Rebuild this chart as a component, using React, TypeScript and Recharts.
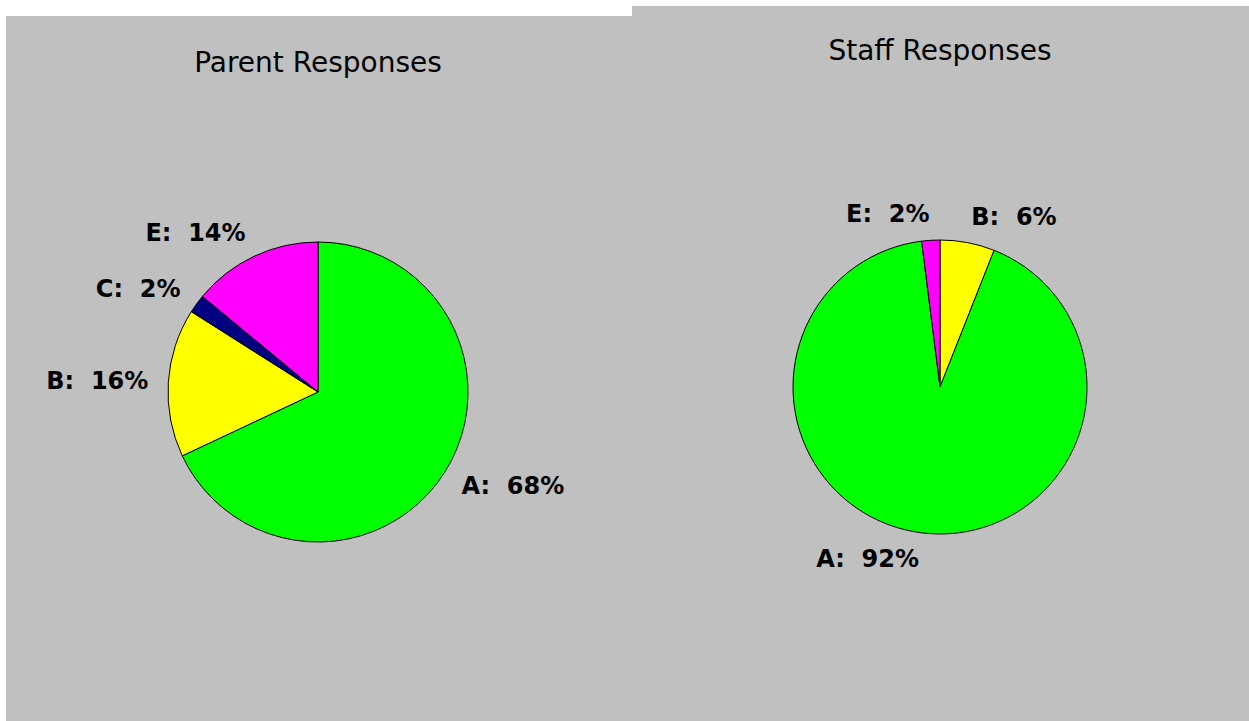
import { PieChart, Pie, Cell } from "recharts";

// Survey results, in drawing order (clockwise from 12 o'clock)
const parentCategories = ["A", "B", "C", "E"];
const parentValues = [68, 16, 2, 14];
const parentColors = ["#00ff00", "#ffff00", "#000080", "#ff00ff"];

const staffCategories = ["B", "A", "E"];
const staffValues = [6, 92, 2];
const staffColors = ["#ffff00", "#00ff00", "#ff00ff"];

const PANEL_BG = "#c0c0c0";
const RAD = Math.PI / 180;

const toRows = (cats: string[], vals: number[]) =>
  cats.map((name, i) => ({ name, value: vals[i] }));

const renderLabel = (props: any) => {
  const { cx, cy, midAngle, outerRadius, name, value } = props;
  const r = outerRadius + 20;
  const cos = Math.cos(-midAngle * RAD);
  const sin = Math.sin(-midAngle * RAD);
  const x = cx + r * cos;
  const y = cy + r * sin + sin * 6;
  return (
    <text
      x={x}
      y={y}
      textAnchor={cos >= 0 ? "start" : "end"}
      dominantBaseline="central"
      fill="#000"
      fontFamily="'DejaVu Sans', Verdana, sans-serif"
      fontWeight="bold"
      fontSize={24}
      style={{ whiteSpace: "pre" }}
    >
      {`${name}:  ${value}%`}
    </text>
  );
};

function ResponsePie({
  title,
  left,
  top,
  width,
  height,
  cx,
  cy,
  radius,
  titleY,
  categories,
  values,
  colors,
}: {
  title: string;
  left: number;
  top: number;
  width: number;
  height: number;
  cx: number;
  cy: number;
  radius: number;
  titleY: number;
  categories: string[];
  values: number[];
  colors: string[];
}) {
  const data = toRows(categories, values);
  return (
    <div
      style={{
        position: "absolute",
        left,
        top,
        width,
        height,
        background: PANEL_BG,
      }}
    >
      <svg
        width={width}
        height={80}
        style={{ position: "absolute", left: 0, top: 0 }}
      >
        <text
          x={cx + 5}
          y={titleY}
          textAnchor="middle"
          fontFamily="'DejaVu Sans', Verdana, sans-serif"
          fontSize={28}
          fill="#000"
        >
          {title}
        </text>
      </svg>
      <PieChart
        width={width}
        height={height}
        style={{ position: "absolute", left: 0, top: 0 }}
      >
        <Pie
          data={data}
          dataKey="value"
          nameKey="name"
          cx={cx}
          cy={cy}
          outerRadius={radius}
          startAngle={90}
          endAngle={-270}
          stroke="#000"
          strokeWidth={1}
          label={renderLabel}
          labelLine={false}
          isAnimationActive={false}
        >
          {data.map((_, i) => (
            <Cell key={i} fill={colors[i]} />
          ))}
        </Pie>
      </PieChart>
    </div>
  );
}

export default function App() {
  return (
    <div
      style={{
        position: "absolute",
        left: 0,
        top: 0,
        width: 1249,
        height: 721,
        background: "#fff",
        overflow: "hidden",
      }}
    >
      <ResponsePie
        title="Parent Responses"
        left={6}
        top={16}
        width={626}
        height={705}
        cx={307}
        cy={371}
        radius={150}
        titleY={56}
        categories={parentCategories}
        values={parentValues}
        colors={parentColors}
      />
      <ResponsePie
        title="Staff Responses"
        left={632}
        top={6}
        width={617}
        height={715}
        cx={303}
        cy={376}
        radius={147}
        titleY={54}
        categories={staffCategories}
        values={staffValues}
        colors={staffColors}
      />
    </div>
  );
}
